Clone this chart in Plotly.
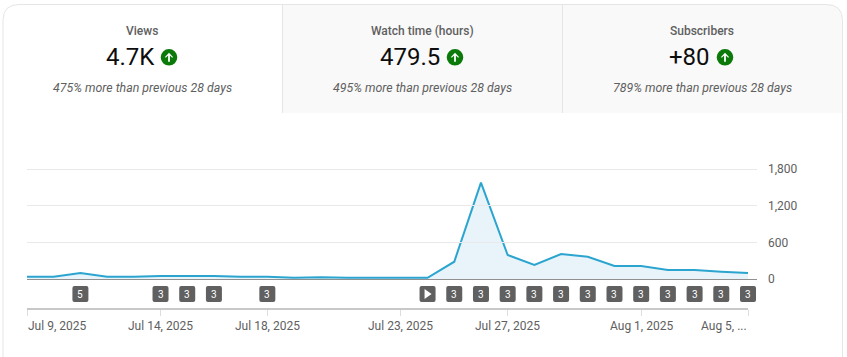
import plotly.graph_objects as go

W, H = 847, 357
FONT = "Roboto"
GREY = "#606060"

dates = ["2025-07-%02d" % d for d in range(9, 32)] + ["2025-08-%02d" % d for d in range(1, 6)]
views = [35, 35, 100, 35, 35, 50, 50, 50, 35, 35, 20, 30, 20, 20, 20, 20,
         283, 1577, 393, 229, 409, 365, 213, 213, 147, 147, 120, 98]

y_ticks = [0, 600, 1200, 1800]
x_ticks = ["2025-07-09", "2025-07-14", "2025-07-18", "2025-07-23", "2025-07-27", "2025-08-01", "2025-08-05"]
x_labels = ["Jul 9, 2025", "Jul 14, 2025", "Jul 18, 2025", "Jul 23, 2025", "Jul 27, 2025", "Aug 1, 2025", "Aug 5, ..."]

badge_dates = ["2025-07-11", "2025-07-14", "2025-07-15", "2025-07-16", "2025-07-18", "2025-07-24",
               "2025-07-25", "2025-07-26", "2025-07-27", "2025-07-28", "2025-07-29", "2025-07-30",
               "2025-07-31", "2025-08-01", "2025-08-02", "2025-08-03", "2025-08-04", "2025-08-05"]
badge_text = ["5", "3", "3", "3", "3", "", "3", "3", "3", "3", "3", "3", "3", "3", "3", "3", "3", "3"]

tab_titles = ["Views", "Watch time (hours)", "Subscribers"]
tab_values = ["4.7K", "479.5", "+80"]
tab_notes = ["475% more than previous 28 days", "495% more than previous 28 days", "789% more than previous 28 days"]
tab_title_x = [142, 422, 702]
tab_value_x = [130, 410, 689]
tab_icon_x = [169, 455, 725]


def px(x):
    return x / W


def py(y):
    return 1 - y / H


def ppath(points, close=True):
    s = "M" + " L".join("%.5f,%.5f" % (px(a), py(b)) for a, b in points)
    return s + (" Z" if close else "")


fig = go.Figure()
fig.add_trace(go.Scatter(
    x=dates, y=views, mode="lines", fill="tozeroy", fillcolor="#e8f4fa",
    line=dict(color="#2ba5cf", width=2), hoverinfo="skip", showlegend=False,
))

shapes = []
L, R, T, TB = 3, 842.5, 4.5, 113
r = 16
shapes.append(dict(type="path", xref="paper", yref="paper", layer="below",
                   path=f"M{px(282)},{py(T)} L{px(R-r)},{py(T)} Q{px(R)},{py(T)} {px(R)},{py(T+r)} "
                        f"L{px(R)},{py(TB)} L{px(282)},{py(TB)} Z",
                   fillcolor="#f9f9f9", line=dict(width=0)))
shapes.append(dict(type="path", xref="paper", yref="paper", layer="below",
                   path=f"M{px(L)},{py(H+2)} L{px(L)},{py(T+r)} Q{px(L)},{py(T)} {px(L+r)},{py(T)} "
                        f"L{px(R-r)},{py(T)} Q{px(R)},{py(T)} {px(R)},{py(T+r)} L{px(R)},{py(H+2)}",
                   fillcolor="rgba(0,0,0,0)", line=dict(color="#e5e5e5", width=1)))
for sx in (282.5, 562.5):
    shapes.append(dict(type="line", xref="paper", yref="paper", layer="below",
                       x0=px(sx), x1=px(sx), y0=py(T), y1=py(TB),
                       line=dict(color="#e5e5e5", width=1)))

CY = 57.3
for cx in tab_icon_x:
    shapes.append(dict(type="circle", xref="paper", yref="paper",
                       x0=px(cx - 8.3), x1=px(cx + 8.3), y0=py(CY - 8.3), y1=py(CY + 8.3),
                       fillcolor="#0b7a0b", line=dict(width=0)))
    shapes.append(dict(type="path", xref="paper", yref="paper",
                       path=ppath([(cx - 4, CY - 0.4), (cx, CY - 4.6), (cx + 4, CY - 0.4),
                                   (cx + 3.2, CY + 0.4), (cx + 0.9, CY - 1.8), (cx + 0.9, CY + 4.4),
                                   (cx - 0.9, CY + 4.4), (cx - 0.9, CY - 1.8), (cx - 3.2, CY + 0.4)]),
                       fillcolor="#ffffff", line=dict(width=0)))

BADGE_Y = py(294)
b = 8
c = 2
badge = (f"M{-b+c},{-b} L{b-c},{-b} Q{b},{-b} {b},{-b+c} L{b},{b-c} Q{b},{b} {b-c},{b} "
         f"L{-b+c},{b} Q{-b},{b} {-b},{b-c} L{-b},{-b+c} Q{-b},{-b} {-b+c},{-b} Z")
for d, t in zip(badge_dates, badge_text):
    shapes.append(dict(type="path", xref="x2", yref="paper", xsizemode="pixel", ysizemode="pixel",
                       xanchor=d, yanchor=BADGE_Y, path=badge, fillcolor=GREY, line=dict(width=0)))
    if not t:
        shapes.append(dict(type="path", xref="x2", yref="paper", xsizemode="pixel", ysizemode="pixel",
                           xanchor=d, yanchor=BADGE_Y, path="M-3,-5 L4,0 L-3,5 Z",
                           fillcolor="#ffffff", line=dict(width=0)))

anns = []


def text(x, y, s, size, color, xref="paper", xanchor="center", **font):
    anns.append(dict(x=x, y=py(y), xref=xref, yref="paper", text=s, showarrow=False,
                     xanchor=xanchor, yanchor="middle", borderpad=0,
                     font=dict(family=FONT, size=size, color=color, **font)))


for i in range(3):
    text(px(tab_title_x[i]), 31, tab_titles[i], 12, GREY, weight=500)
    text(px(tab_value_x[i]), 57, tab_values[i], 24, "#0d0d0d")
    text(px(tab_title_x[i]), 88, tab_notes[i], 12.35, GREY, style="italic")

for d, t in zip(badge_dates, badge_text):
    if t:
        text(d, 294, t, 10, "#ffffff", xref="x2")

for i, (d, t) in enumerate(zip(x_ticks, x_labels)):
    anchor = "left" if i == 0 else ("right" if i == len(x_ticks) - 1 else "center")
    text(d, 325.5, t, 12, GREY, xref="x", xanchor=anchor)

fig.update_layout(
    width=W, height=H, margin=dict(l=0, r=0, t=0, b=0),
    paper_bgcolor="#ffffff", plot_bgcolor="rgba(0,0,0,0)",
    shapes=shapes, annotations=anns, showlegend=False,
    xaxis=dict(domain=[px(27), px(748)], range=[dates[0], dates[-1]], type="date",
               anchor="free", position=py(308.5), showgrid=False, zeroline=False, automargin=False,
               showline=True, linecolor="#c8c8c8", linewidth=2,
               ticks="outside", ticklen=6, tickwidth=1, tickcolor="#dddddd",
               tickvals=x_ticks, showticklabels=False),
    # wider hidden axis on the same time scale, so the last event badge is not clipped
    xaxis2=dict(domain=[px(27), px(757)], range=[dates[0], "2025-08-05 08:05"], type="date",
                anchor="free", position=py(308.5), visible=False, automargin=False),
    yaxis=dict(domain=[py(279), py(167)], range=[0, 1832.7], side="right", anchor="x", automargin=False,
               tickvals=y_ticks, ticktext=["0", "600", "1,200", "1,800"],
               ticks="", showgrid=True, gridcolor="#e9e9e9", gridwidth=1,
               zeroline=True, zerolinecolor="#909090", zerolinewidth=1, showline=False,
               ticklabelstandoff=19,
               tickfont=dict(family=FONT, size=12, color=GREY)),
)

fig.write_html("out.html", config={"displayModeBar": False},
               post_script="document.body.style.margin='0';document.body.style.overflow='hidden';")
